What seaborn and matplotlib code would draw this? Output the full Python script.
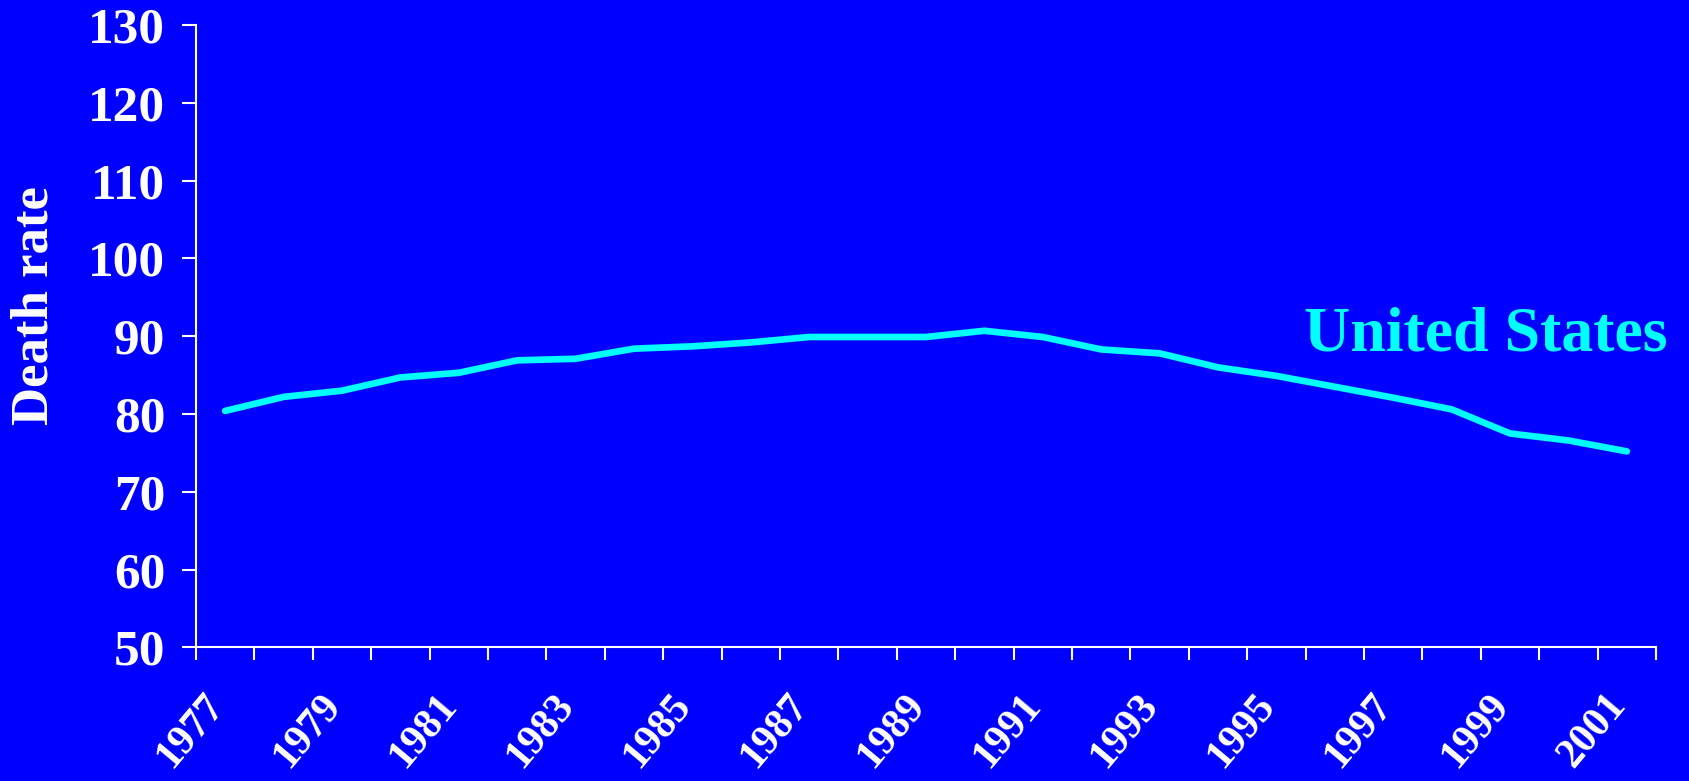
import matplotlib
matplotlib.use("Agg")
import matplotlib.pyplot as plt
import matplotlib.transforms as mtransforms
import numpy as np
import seaborn as sns

# death rate by year
years = np.arange(1977, 2002)
rates = [80.4, 82.2, 83.0, 84.7, 85.3, 86.9, 87.1, 88.4, 88.7, 89.2,
         89.9, 89.9, 89.9, 90.7, 89.9, 88.3, 87.8, 86.0, 84.9, 83.5,
         82.1, 80.6, 77.5, 76.6, 75.2]
label_years = list(range(1977, 2002, 2))
y_ticks = list(range(50, 131, 10))

bg = "#0000FF"
fg = "white"
line_col = "#00FFFF"

sns.set_theme(style="ticks")
plt.rcParams["font.family"] = ["Liberation Serif", "DejaVu Serif"]
plt.rcParams["font.weight"] = "bold"

fig = plt.figure(figsize=(16.89, 7.81), dpi=100, facecolor=bg)
ax = fig.add_axes([0.116, 0.171, 0.8645, 0.797], facecolor=bg)

sns.lineplot(x=years, y=rates, ax=ax, color=line_col, linewidth=4.8,
             solid_capstyle="round", solid_joinstyle="round")

ax.set_xlim(1976.5, 2001.5)
ax.set_ylim(50, 130)

# tick marks between categories, labels on odd years
ax.set_xticks(np.arange(1976.5, 2002, 1.0))
ax.set_xticklabels([])
ax.set_xticks(label_years, minor=True)
ax.set_xticklabels([str(y) for y in label_years], minor=True, rotation=50,
                   ha="right", va="center", rotation_mode="anchor",
                   fontsize=30, fontweight="bold", color=fg)
ax.tick_params(axis="x", which="major", length=9.5, width=1.5, color=fg,
               direction="out")
ax.tick_params(axis="x", which="minor", length=0, pad=37)
shift = mtransforms.ScaledTranslation(-8 / 100, 0, fig.dpi_scale_trans)
for lab in ax.get_xticklabels(minor=True):
    lab.set_transform(lab.get_transform() + shift)

ax.set_yticks(y_ticks)
ax.set_yticklabels([str(v) for v in y_ticks], fontsize=37,
                   fontweight="bold", color=fg)
ax.tick_params(axis="y", length=10, width=1.5, color=fg, direction="out",
               pad=12)

for s in ["top", "right"]:
    ax.spines[s].set_visible(False)
for s in ["left", "bottom"]:
    ax.spines[s].set_color(fg)
    ax.spines[s].set_linewidth(1.5)

ax.set_xlabel("")
ax.set_ylabel("Death rate", fontsize=38, fontweight="bold", color=fg)
ax.yaxis.set_label_coords(-0.094, 0.55)

ax.text(2001.7, 88.2, "United States", ha="right", va="baseline",
        fontsize=46, fontweight="bold", color=line_col, clip_on=False)

fig.savefig("out.png", dpi=100, facecolor=bg)
